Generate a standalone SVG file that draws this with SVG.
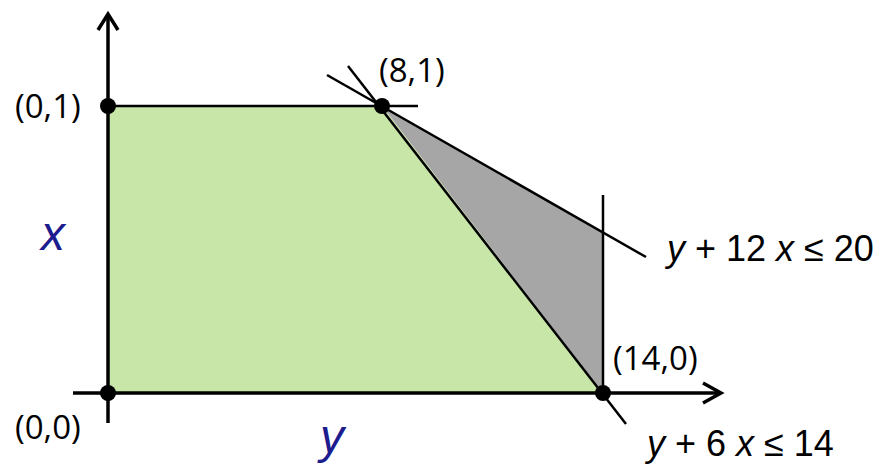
<svg xmlns="http://www.w3.org/2000/svg" width="882" height="465" viewBox="0 0 882 465">
<style>
.ax{stroke:#000;stroke-width:3.5;fill:none}
.ln{stroke:#000;stroke-width:2.5;fill:none}
.pt{fill:#000}
.lbl{font-family:"Open Sans","Noto Sans",sans-serif;font-size:33px;fill:#000}
.eq{font-family:"Liberation Sans",Arial,sans-serif;font-size:36px;fill:#000}
.var{font-family:"Liberation Sans",Arial,sans-serif;font-style:italic;font-size:48px;fill:#1c1c8f}
</style>
<rect width="882" height="465" fill="#fff"/>
<g id="regions">
<polygon points="108,106 382,106 603,393 108,393" fill="#c8e6a8"/>
<polygon points="382,106 603,232 603,393" fill="#a6a6a6"/>
</g>
<g id="connectors">
<line class="ax" x1="108" y1="14" x2="108" y2="423"/>
<polyline class="ax" points="98,30 108,14 118,30"/>
<line class="ax" x1="73" y1="393" x2="721" y2="393"/>
<polyline class="ax" points="703,383 721,393 703,403"/>
<line class="ln" x1="108" y1="106" x2="418" y2="106"/>
<line class="ln" x1="348" y1="66" x2="626" y2="424"/>
<line class="ln" x1="327" y1="75" x2="646" y2="257"/>
<line class="ln" x1="603" y1="195" x2="603" y2="393"/>
</g>
<g id="p01"><circle class="pt" cx="108" cy="106" r="8"/><text class="lbl" x="15" y="118">(0,1)</text></g>
<g id="p81"><circle class="pt" cx="382" cy="106" r="8"/><text class="lbl" x="379" y="82">(8,1)</text></g>
<g id="p140"><circle class="pt" cx="603" cy="393" r="8"/><text class="lbl" x="613" y="370">(14,0)</text></g>
<g id="p00"><circle class="pt" cx="108" cy="393" r="8"/><text class="lbl" x="15" y="439">(0,0)</text></g>
<g id="axis-labels">
<text class="var" x="41" y="250">x</text>
<text class="var" x="320" y="453">y</text>
</g>
<g id="eq1"><text class="eq" x="667" y="261"><tspan font-style="italic">y</tspan> + 12 <tspan font-style="italic">x</tspan> ≤ 20</text></g>
<g id="eq2"><text class="eq" x="647" y="456"><tspan font-style="italic">y</tspan> + 6 <tspan font-style="italic">x</tspan> ≤ 14</text></g>
</svg>
